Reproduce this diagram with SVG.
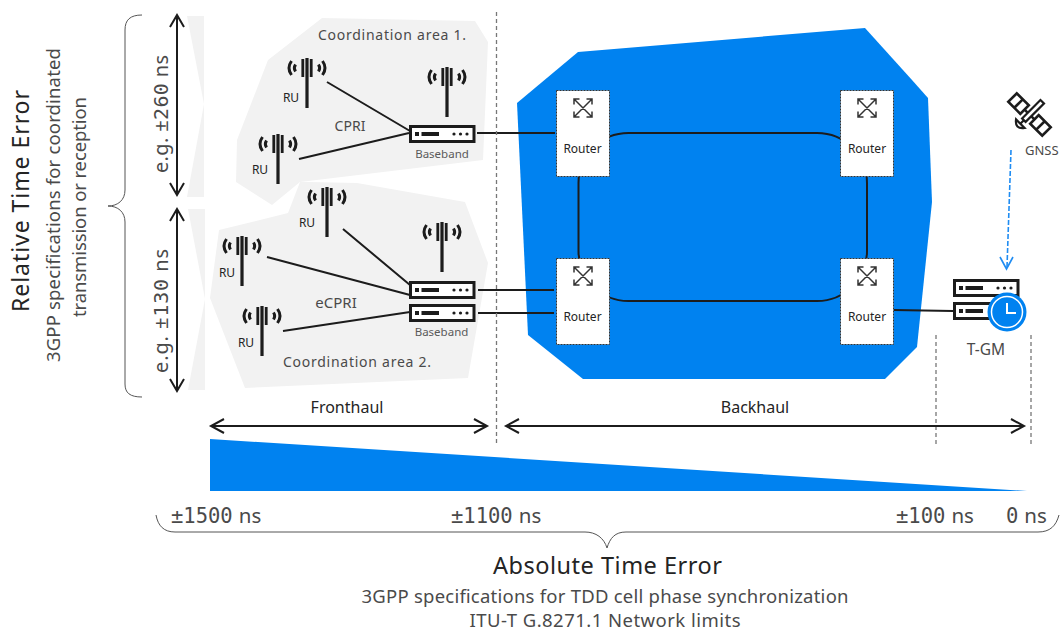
<svg xmlns="http://www.w3.org/2000/svg" width="1061" height="630" viewBox="0 0 1061 630">
<style>
text{font-family:"Noto Sans","Open Sans","Liberation Sans",sans-serif;fill:#4a4a4a}
.dark{fill:#242424}
.mono{font-family:"DejaVu Sans Mono","Liberation Mono",monospace}
.ns{font-family:"Noto Sans","Open Sans",sans-serif}
.ru{font-size:12px;fill:#242424;text-anchor:middle}
.bb{font-size:11.500px;fill:#5a5a5a;text-anchor:middle}
.rt{font-size:12px;fill:#242424;text-anchor:middle}
.ln{fill:none;stroke:#1c1c1c;stroke-width:2}
.thin{fill:none;stroke:#555;stroke-width:1}
.gv{fill:none;stroke:#777;stroke-width:1.300;stroke-dasharray:4 3}
.area{fill:#f2f2f2}
.tm{font-size:20.500px}
</style>
<defs>
<g id="ant">
<rect x="-1.600" y="0" width="3.200" height="50" fill="#1c1c1c"/>
<rect x="-5.600" y="1" width="2.800" height="18" fill="#1c1c1c"/>
<rect x="2.800" y="1" width="2.800" height="18" fill="#1c1c1c"/>
<path d="M-15.500 3Q-20.500 10 -15.500 17M-11.500 6.500Q-13.800 10 -11.500 13.500M15.500 3Q20.500 10 15.500 17M11.500 6.500Q13.800 10 11.500 13.500" fill="none" stroke="#1c1c1c" stroke-width="3"/>
</g>
<g id="bbx">
<rect x="1.500" y="1.500" width="63.500" height="15" fill="#fff" stroke="#1c1c1c" stroke-width="3"/>
<rect x="6" y="7" width="4" height="4" fill="#1c1c1c"/>
<rect x="12.500" y="7" width="17.500" height="4" fill="#1c1c1c"/>
<circle cx="45" cy="9" r="1.600" fill="#1c1c1c"/>
<circle cx="51.500" cy="9" r="1.600" fill="#1c1c1c"/>
<circle cx="58" cy="9" r="1.600" fill="#1c1c1c"/>
</g>
<g id="rtr">
<rect x="0.500" y="0.500" width="53" height="86" fill="#fff" stroke="#333" stroke-width="1" stroke-dasharray="2 1"/>
<path d="M18 9L36 27M36 9L18 27M18 14.500V9H23.500M30.500 9H36V14.500M18 21.500V27H23.500M30.500 27H36V21.500" fill="none" stroke="#333" stroke-width="1.500"/>
</g>
</defs>

<g id="side-bands">
<polygon class="area" points="187,16 204,16 204,197 187,197 204,104"/>
<polygon class="area" points="188,209 205,209 205,390 188,390 205,299"/>
</g>
<g id="area-1"><polygon class="area" points="322,18 475,21 488,42 483,160 300,182 272,205 236,182 237,140 268,60"/>
<text x="392" y="40" text-anchor="middle" font-size="14" textLength="148">Coordination area 1.</text></g>
<g id="area-2"><polygon class="area" points="300,182 310,182 357,183 465,202 488,263 468,378 245,388 210,298 219,230 288,213"/>
<text x="357" y="367" text-anchor="middle" font-size="14" textLength="148">Coordination area 2.</text></g>
<polygon id="backhaul-net" fill="#0082f0" points="517,103 578,52 865,28 912,80 928,98 932,202 917,347 885,379 583,379 528,335"/>

<g id="connectors">
<path class="ln" d="M327 82L410 131M299 159L409 133M343 229L410 285M267 257L410 295M283 331L410 312"/>
<path class="ln" d="M477 133H555M478 290H554M478 313H554M894 310L953 311"/>
<rect class="ln" x="578.500" y="133" width="288.500" height="168" rx="50"/>
<path fill="none" stroke="#1f8cf2" stroke-width="1.600" stroke-dasharray="5 2" d="M1011 150L1007 267"/>
<path fill="none" stroke="#1f8cf2" stroke-width="1.600" d="M1000 257L1006.500 269L1013 257"/>
</g>

<g id="ru-1"><use href="#ant" x="307" y="58"/><text class="ru" x="291" y="102">RU</text></g>
<g id="ru-2"><use href="#ant" x="278" y="134"/><text class="ru" x="260" y="174">RU</text></g>
<g id="ant-1"><use href="#ant" x="447" y="67"/></g>
<g id="ru-3"><use href="#ant" x="327" y="187"/><text class="ru" x="307" y="227">RU</text></g>
<g id="ru-4"><use href="#ant" x="242" y="236"/><text class="ru" x="227" y="277">RU</text></g>
<g id="ant-2"><use href="#ant" x="442" y="222"/></g>
<g id="ru-5"><use href="#ant" x="262" y="306"/><text class="ru" x="246" y="347">RU</text></g>
<g id="baseband-1"><use href="#bbx" x="409" y="125"/><text class="bb" x="442" y="158">Baseband</text></g>
<g id="baseband-2"><use href="#bbx" x="409" y="281"/><use href="#bbx" x="409" y="304"/><text class="bb" x="441.500" y="336">Baseband</text></g>
<text x="350" y="131" text-anchor="middle" font-size="14">CPRI</text>
<text x="336" y="308" text-anchor="middle" font-size="15">eCPRI</text>

<g id="router-1"><use href="#rtr" x="556" y="90"/><text class="rt" x="582.500" y="153">Router</text></g>
<g id="router-2"><use href="#rtr" x="840" y="90"/><text class="rt" x="867" y="153">Router</text></g>
<g id="router-3"><use href="#rtr" x="556" y="258"/><text class="rt" x="582.500" y="321">Router</text></g>
<g id="router-4"><use href="#rtr" x="840" y="258"/><text class="rt" x="867" y="321">Router</text></g>

<g id="t-gm">
<use href="#bbx" x="953" y="279"/><use href="#bbx" x="953" y="302"/>
<circle cx="1007" cy="312" r="19.500" fill="#0082f0"/>
<circle cx="1007" cy="312" r="15.500" fill="#0082f0" stroke="#fff" stroke-width="1.500"/>
<path d="M1007 303V313H1016" fill="none" stroke="#fff" stroke-width="2"/>
<text x="986" y="355" text-anchor="middle" font-size="15.500">T-GM</text>
</g>

<g id="gnss">
<g transform="translate(1029.500 114.500) rotate(45)" fill="#fff" stroke="#1c1c1c" stroke-width="2.600">
<rect x="-24" y="-6" width="17" height="12"/><path d="M-15.500 -6V6"/>
<rect x="7" y="-6" width="17" height="12"/><path d="M15.500 -6V6"/>
<path d="M-7 0H7"/>
<rect x="-2.500" y="-18" width="5" height="26" stroke-width="2.200"/>
<path d="M-6 13Q0 21 6 13ZM0 8V13" fill="#fff" stroke-width="2.200"/>
</g>
<text x="1025" y="155" font-size="13">GNSS</text>
</g>

<g id="dividers">
<path class="gv" d="M496.500 12V445M936 335V445M1031 335V445"/>
</g>

<g id="relative-error">
<path class="ln" d="M177 15V195M170 27L177 15L184 27M170 183L177 195L184 183"/>
<path class="ln" d="M177 209V391M170 221L177 209L184 221M170 379L177 391L184 379"/>
<path class="thin" d="M142 15C130 15 125 20 125 30V190C125 200 118 206 108 206C118 206 125 212 125 222V384C125 393 130 397 142 397"/>
<text transform="translate(168 114) rotate(-90)" text-anchor="middle" font-size="20" textLength="118">e.g. ±<tspan class="mono" font-size="20">260</tspan> ns</text>
<text transform="translate(168 311) rotate(-90)" text-anchor="middle" font-size="20" textLength="124">e.g. ±<tspan class="mono" font-size="20">130</tspan> ns</text>
<text class="dark" transform="translate(29 201) rotate(-90)" text-anchor="middle" font-size="23" textLength="222">Relative Time Error</text>
<text transform="translate(60 205) rotate(-90)" text-anchor="middle" font-size="18.500" textLength="314">3GPP specifications for coordinated</text>
<text transform="translate(86 207) rotate(-90)" text-anchor="middle" font-size="18.500" textLength="220">transmission or reception</text>
</g>

<g id="span-arrows">
<path class="ln" d="M211 426H487M224 419L211 426L224 433M474 419L487 426L474 433"/>
<path class="ln" d="M506 426H1024M519 419L506 426L519 433M1011 419L1024 426L1011 433"/>
<text class="dark" x="347" y="413" text-anchor="middle" font-size="16">Fronthaul</text>
<text class="dark" x="755" y="413" text-anchor="middle" font-size="16">Backhaul</text>
</g>

<polygon id="wedge" fill="#0082f0" points="210,439 210,491 1027,491"/>

<g id="absolute-error">
<path class="thin" d="M156 515C158 526 164 532 175 532H585C596 532 604 538 607 548C610 538 615 532 626 532H1038C1050 532 1056 526 1059 515"/>
<text class="mono tm" x="171" y="523">±1500<tspan class="ns" dx="6">ns</tspan></text>
<text class="mono tm" x="451" y="523">±1100<tspan class="ns" dx="6">ns</tspan></text>
<text class="mono tm" x="896" y="523">±100<tspan class="ns" dx="6">ns</tspan></text>
<text class="mono tm" x="1006" y="523">0<tspan class="ns" dx="6">ns</tspan></text>
<text class="dark" x="607.500" y="574" text-anchor="middle" font-size="23.500" textLength="229">Absolute Time Error</text>
<text x="605" y="603" text-anchor="middle" font-size="18.500" textLength="487">3GPP specifications for TDD cell phase synchronization</text>
<text x="605" y="627" text-anchor="middle" font-size="18.500" textLength="271">ITU-T G.8271.1 Network limits</text>
</g>
</svg>
